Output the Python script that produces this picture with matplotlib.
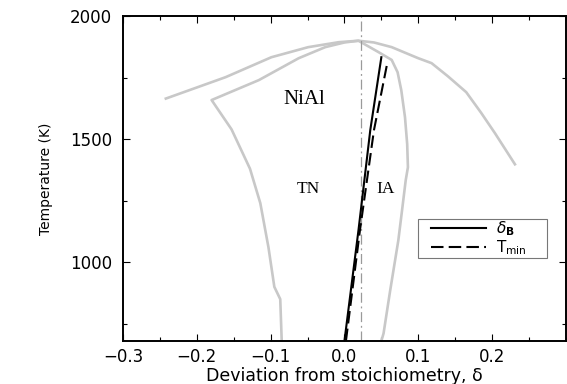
import matplotlib
matplotlib.use("Agg")
import matplotlib.pyplot as plt
from matplotlib.patches import Rectangle
from matplotlib.ticker import MultipleLocator

# outer gray boundary
outer_x = [-0.242, -0.161, -0.099, -0.049, -0.008, 0.019, 0.040, 0.064, 0.100, 0.118,
           0.140, 0.165, 0.185, 0.204, 0.231]
outer_y = [1665, 1752, 1833, 1874, 1894, 1900, 1893, 1874, 1829, 1809,
           1756, 1691, 1608, 1524, 1398]

# inner gray boundary (B2 NiAl region)
inner_x = [-0.085, -0.087, -0.095, -0.103, -0.114, -0.128, -0.153, -0.180, -0.116, -0.062,
           -0.026, 0.000, 0.019, 0.046, 0.064, 0.072, 0.077, 0.082, 0.085, 0.086, 0.083,
           0.078, 0.073, 0.062, 0.053, 0.050]
inner_y = [680, 850, 900, 1061, 1240, 1380, 1540, 1659, 1740, 1829,
           1874, 1893, 1900, 1854, 1822, 1772, 1699, 1590, 1480, 1386, 1333,
           1210, 1089, 886, 711, 680]

# delta_B and T_min lines
dB_x = [0.0, 0.019, 0.035, 0.050]
dB_y = [680, 1130, 1537, 1833]
tmin_x = [0.002, 0.021, 0.040, 0.058]
tmin_y = [680, 1130, 1537, 1809]

stoich_x = 0.022

plt.rcParams['font.family'] = ['DejaVu Sans']
plt.rcParams['mathtext.fontset'] = 'dejavusans'

fig = plt.figure(figsize=(5.67, 3.84), dpi=100)
ax = fig.add_axes([0.217, 0.112, 0.781, 0.846])

gray = '#c8c8c8'
ax.plot(outer_x, outer_y, color=gray, lw=1.9, solid_joinstyle='round')
ax.plot(inner_x, inner_y, color=gray, lw=1.9, solid_joinstyle='round')
ax.axvline(stoich_x, color='#9a9a9a', lw=0.9, linestyle=(0, (8, 3, 1.5, 3)))
ax.plot(dB_x, dB_y, color='black', lw=1.5, label=r'$\delta_{\mathbf{B}}$')
ax.plot(tmin_x, tmin_y, color='black', lw=1.5, linestyle=(0, (6, 2.5)),
        label=r'$\mathrm{T}_{\mathrm{min}}$')

ax.text(-0.055, 1662, 'NiAl', family='Liberation Serif', fontsize=15,
        ha='center', va='center')
ax.text(-0.049, 1297, 'TN', family='Liberation Serif', fontsize=12.5,
        ha='center', va='center')
ax.text(0.055, 1297, 'IA', family='Liberation Serif', fontsize=12.5,
        ha='center', va='center')

ax.set_xlim(-0.3, 0.3)
ax.set_ylim(680, 2000)
ax.xaxis.set_minor_locator(MultipleLocator(0.05))
ax.yaxis.set_major_locator(MultipleLocator(500))
ax.yaxis.set_minor_locator(MultipleLocator(250))
ax.set_xticks([-0.3, -0.2, -0.1, 0.0, 0.1, 0.2])
ax.set_xticklabels(['\u22120.3', '\u22120.2', '\u22120.1', '0.0', '0.1', '0.2'])
ax.tick_params(which='both', direction='in', top=True, right=True, labelsize=12)
ax.tick_params(which='major', length=5, width=0.8)
ax.tick_params(which='minor', length=3, width=0.8)
ax.tick_params(axis='y', pad=8)
ax.tick_params(axis='x', pad=5)
for s in ax.spines.values():
    s.set_linewidth(1.4)

ax.set_xlabel('Deviation from stoichiometry, \u03b4', fontsize=12.5, labelpad=1)
ax.set_ylabel('Temperature (K)', fontsize=10, labelpad=12)

# legend frame drawn separately: wide side padding, tight top/bottom
ax.add_patch(Rectangle((0.666, 0.255), 0.291, 0.120, transform=ax.transAxes,
                       facecolor='white', edgecolor='#777777', lw=0.8, zorder=4))
leg = ax.legend(loc='center left', bbox_to_anchor=(0.695, 0.316), fontsize=11,
                frameon=False, handlelength=3.6, borderpad=0,
                labelspacing=0.0, handletextpad=0.7, borderaxespad=0)
leg.set_zorder(5)

fig.savefig('out.png', dpi=100)
